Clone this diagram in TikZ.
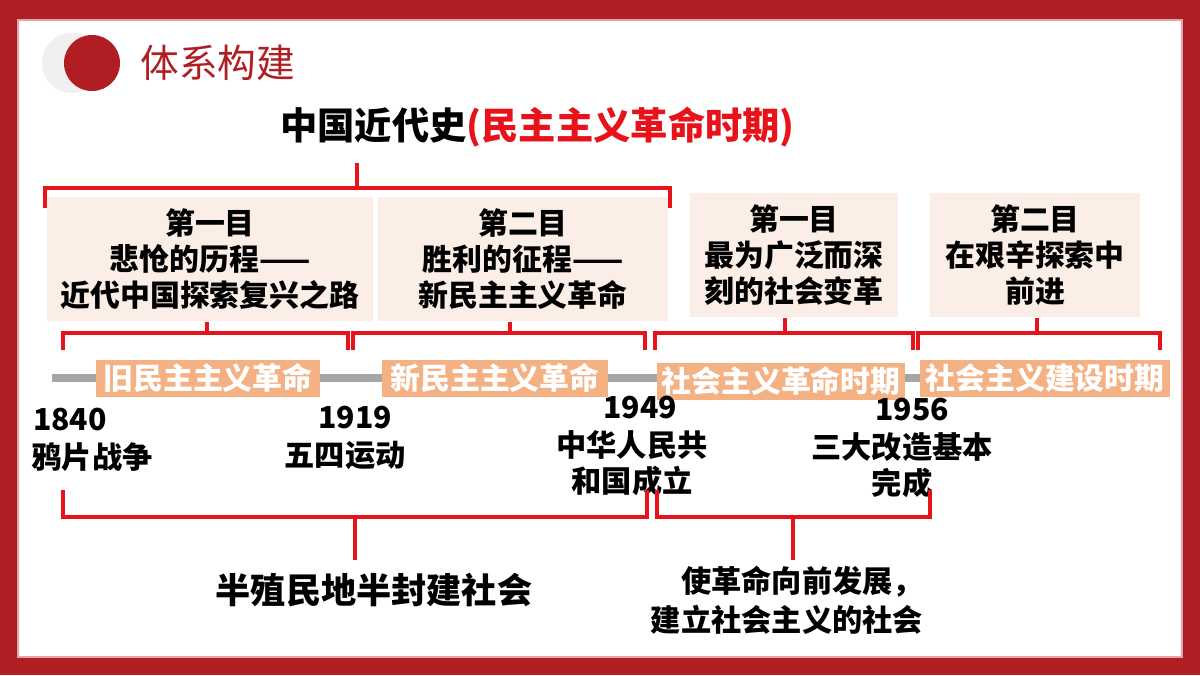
\documentclass[tikz,border=0pt]{standalone}
\usepackage{fontspec}
\setmainfont{Noto Sans CJK SC}
\usetikzlibrary{positioning}
\definecolor{frame}{HTML}{B01E23}
\definecolor{peach}{HTML}{FBEEE6}
\definecolor{tag}{HTML}{F4B183}
\definecolor{brk}{HTML}{E8121B}
\tikzset{
  box/.style={fill=peach,draw=none,align=center,font=\fontsize{8.5}{10.3}\selectfont\bfseries},
  lbl/.style={fill=tag,text=white,font=\fontsize{8.5}{9}\selectfont\bfseries,inner sep=0pt,minimum height=0.37cm},
  dt/.style={font=\fontsize{8.6}{10.3}\selectfont\bfseries,align=center,inner sep=0pt},
  br/.style={draw=brk,line width=0.9pt}
}
\begin{document}
\begin{tikzpicture}[x=0.01cm,y=-0.01cm]
  \useasboundingbox (0,0) rectangle (1200,675);
  \fill[frame] (0,0) rectangle (1200,675);
  \fill[white] (18,20) rectangle (1182,657);
  \draw[frame!40,line width=0.6pt] (18,20) rectangle (1182,657);

  % title
  \fill[gray!12] (72,63) circle (0.3cm);
  \fill[frame] (92,63) circle (0.28cm);
  \node[text=frame,anchor=west,font=\fontsize{11}{12}\selectfont] (ttl) at (128,63) {体系构建};
  \node[font=\fontsize{10.6}{12}\selectfont\bfseries,anchor=west] (main) at (268,127)
    {中国近代史\textcolor{brk}{(民主主义革命时期)}};

  % boxes
  \node[box,minimum width=3.25cm,minimum height=1.18cm] (b1) at (210,259) {第一目\\悲怆的历程——\\近代中国探索复兴之路};
  \node[box,minimum width=2.9cm,minimum height=1.18cm] (b2) at (523,259) {第二目\\胜利的征程——\\新民主主义革命};
  \node[box,minimum width=2.08cm,minimum height=1.17cm] (b3) at (794,255) {第一目\\最为广泛而深\\刻的社会变革};
  \node[box,minimum width=2.1cm,minimum height=1.17cm] (b4) at (1035,255) {第二目\\在艰辛探索中\\前进};

  % upper brackets
  \draw[br] (357,163) -- (357,188);
  \draw[br] (45,208) -- (45,188) -- (670,188) -- (670,208);
  \draw[br] (63,350) -- (63,333) -- (348,333) -- (348,350) (207,333) -- (b1.south -| 207,0);
  \draw[br] (353,350) -- (353,333) -- (645,333) -- (645,350) (510,333) -- (b2.south -| 510,0);
  \draw[br] (655,350) -- (655,333) -- (913,333) -- (913,350) (785,333) -- (b3.south -| 785,0);
  \draw[br] (918,350) -- (918,333) -- (1160,333) -- (1160,350) (1037,333) -- (b4.south -| 1037,0);

  % timeline
  \draw[gray!70,line width=2.2pt] (52,378) -- (1165,378);
  \node[lbl,minimum width=2.23cm] (t1) at (208,378) {旧民主主义革命};
  \node[lbl,minimum width=2.25cm] (t2) at (495,378) {新民主主义革命};
  \node[lbl,minimum width=2.48cm] (t3) at (781,381) {社会主义革命时期};
  \node[lbl,minimum width=2.49cm] (t4) at (1045,378) {社会主义建设时期};

  % dates
  \node[dt] (d1) at (70,420) {1840};
  \node[dt] (e1) at (92,457) {鸦片战争};
  \node[dt] (d2) at (355,418) {1919};
  \node[dt] (e2) at (345,455) {五四运动};
  \node[dt] (d3) at (640,408) {1949};
  \node[dt] (e3) at (632,463) {中华人民共\\和国成立};
  \node[dt] (d4) at (912,410) {1956};
  \node[dt] (e4) at (902,465) {三大改造基本\\完成};

  % lower brackets
  \draw[br] (63,490) -- (63,517) -- (647,517) -- (647,490) (355,517) -- (355,560);
  \draw[br] (657,490) -- (657,517) -- (930,517) -- (930,490) (793,517) -- (793,560);
  \node[font=\fontsize{10}{12}\selectfont\bfseries] (s1) at (374,590) {半殖民地半封建社会};
  \node[font=\fontsize{8.6}{11.2}\selectfont\bfseries,align=center] (s2) at (787,600) {\quad 使革命向前发展，\\建立社会主义的社会};
\end{tikzpicture}
\end{document}
